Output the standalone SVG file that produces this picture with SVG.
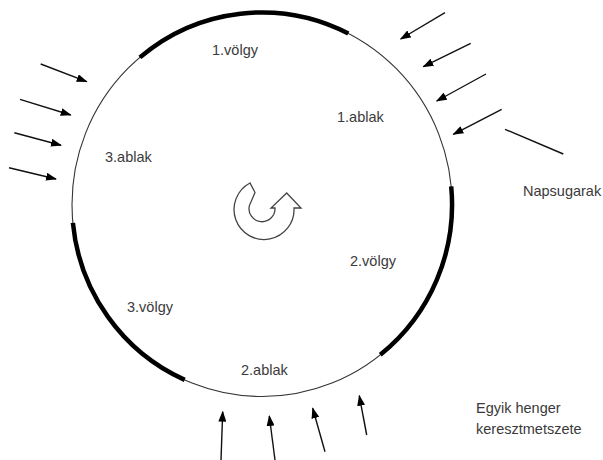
<svg xmlns="http://www.w3.org/2000/svg" width="603" height="460" viewBox="0 0 603 460">
<style>
.lbl{font-family:"Liberation Sans","Open Sans",Arial,sans-serif;font-size:14.5px;fill:#3a3a3a}
.thin{fill:none;stroke:#333;stroke-width:1.1}
.thick{fill:none;stroke:#000;stroke-width:4.5;stroke-linecap:butt}
.ray{fill:none;stroke:#111;stroke-width:1.4}
</style>
<defs>
<marker id="ah" markerUnits="userSpaceOnUse" markerWidth="11" markerHeight="8" refX="10" refY="4" orient="auto">
<path d="M0,0 L11,4 L0,8 z" fill="#000"/>
</marker>
</defs>
<rect width="603" height="460" fill="#fff"/>
<g id="cylinder">
<ellipse cx="262" cy="204.5" rx="190" ry="192" class="thin"/>
<path class="thick" d="M139.9,57.4 A190 192 0 0 1 348.3,33.4"/>
<path class="thick" d="M451.2,186.4 A190 192 0 0 1 380.3,354.8"/>
<path class="thick" d="M184.7,379.9 A190 192 0 0 1 72.9,222.9"/>
</g>
<g id="rotation">
<path d="M250,183 A30 30 0 1 0 294,208 L301,208 L286.7,193 L271,208 L275,208 A13 13 0 1 1 249.4,205.6 L255,192.5 Z" fill="#fff" stroke="#444" stroke-width="1.3" stroke-linejoin="miter"/>
</g>
<g id="connectors">
<line class="ray" x1="40.7" y1="64" x2="86.7" y2="81.7" marker-end="url(#ah)"/>
<line class="ray" x1="20" y1="99.3" x2="70.7" y2="115" marker-end="url(#ah)"/>
<line class="ray" x1="14.3" y1="132.7" x2="61" y2="145.3" marker-end="url(#ah)"/>
<line class="ray" x1="9" y1="167.7" x2="56" y2="179" marker-end="url(#ah)"/>
<line class="ray" x1="445" y1="12.7" x2="400.7" y2="39" marker-end="url(#ah)"/>
<line class="ray" x1="470.7" y1="43.3" x2="423.3" y2="66.7" marker-end="url(#ah)"/>
<line class="ray" x1="486" y1="74" x2="436.7" y2="101" marker-end="url(#ah)"/>
<line class="ray" x1="501.7" y1="109.3" x2="453.3" y2="134.3" marker-end="url(#ah)"/>
<line class="ray" x1="505" y1="129.3" x2="563.3" y2="154"/>
<line class="ray" x1="221" y1="460" x2="222.7" y2="411.7" marker-end="url(#ah)"/>
<line class="ray" x1="275" y1="460" x2="269.3" y2="416" marker-end="url(#ah)"/>
<line class="ray" x1="325" y1="451.7" x2="312.7" y2="408.3" marker-end="url(#ah)"/>
<line class="ray" x1="366.7" y1="435" x2="359.3" y2="395.7" marker-end="url(#ah)"/>
</g>
<g id="labels">
<text class="lbl" x="212" y="55">1.völgy</text>
<text class="lbl" x="337" y="122">1.ablak</text>
<text class="lbl" x="105" y="162">3.ablak</text>
<text class="lbl" x="523" y="196">Napsugarak</text>
<text class="lbl" x="350" y="266">2.völgy</text>
<text class="lbl" x="127" y="312">3.völgy</text>
<text class="lbl" x="241" y="375">2.ablak</text>
<text class="lbl" x="476" y="413">Egyik henger</text>
<text class="lbl" x="476" y="434">keresztmetszete</text>
</g>
</svg>
